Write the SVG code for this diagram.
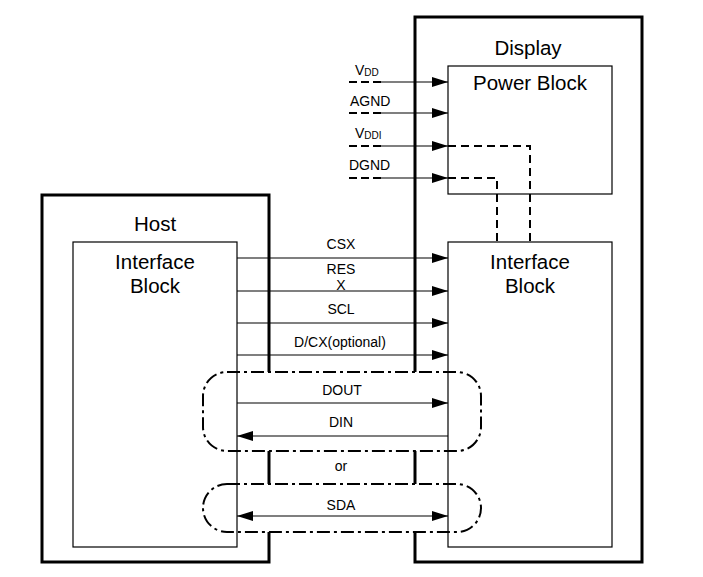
<svg xmlns="http://www.w3.org/2000/svg" width="703" height="577" viewBox="0 0 703 577">
<defs>
<style>
.thick{fill:none;stroke:#000;stroke-width:3}
.box{fill:none;stroke:#000;stroke-width:1.2}
.sig{fill:none;stroke:#000;stroke-width:1.1}
.dash{fill:none;stroke:#000;stroke-width:2;stroke-dasharray:8 4}
.dash2{fill:none;stroke:#000;stroke-width:2;stroke-dasharray:8 5}
.dd{fill:none;stroke:#000;stroke-width:2;stroke-dasharray:13 4 3 4}
.big{font-family:"Liberation Sans",Arial,sans-serif;font-size:20.5px;fill:#000;text-anchor:middle}
.lbl{font-family:"Liberation Sans",Arial,sans-serif;font-size:14px;fill:#000;text-anchor:middle}
.pl{font-family:"Liberation Sans",Arial,sans-serif;font-size:14px;fill:#000}
</style>
<marker id="arr" viewBox="0 0 16 10" refX="16" refY="5" markerWidth="16" markerHeight="10" markerUnits="userSpaceOnUse" orient="auto-start-reverse">
<path d="M0,0 L16,5 L0,10 z" fill="#000"/>
</marker>
</defs>
<rect width="703" height="577" fill="#fff"/>

<g id="host">
<path class="thick" d="M269,372 V195 H42 V562 H269 V532"/>
<path class="thick" d="M269,451 V484"/>
<text class="big" x="155" y="231">Host</text>
</g>
<g id="host-interface">
<rect class="box" x="73" y="242" width="164" height="305"/>
<text class="big" x="155" y="269">Interface</text>
<text class="big" x="155" y="293">Block</text>
</g>

<g id="display">
<path class="thick" d="M415,372 V17 H642 V562 H415 V532"/>
<path class="thick" d="M415,451 V484"/>
<text class="big" x="528" y="55">Display</text>
</g>
<g id="power-block">
<rect class="box" x="448" y="66" width="164" height="128"/>
<text class="big" x="530" y="90">Power Block</text>
</g>
<g id="display-interface">
<rect class="box" x="448" y="242" width="164" height="305"/>
<text class="big" x="530" y="269">Interface</text>
<text class="big" x="530" y="293">Block</text>
</g>

<g id="connectors">
<path class="dash" d="M349,82 H381"/>
<path class="sig" d="M381,82 H448" marker-end="url(#arr)"/>
<path class="dash" d="M349,113 H381"/>
<path class="sig" d="M381,113 H448" marker-end="url(#arr)"/>
<path class="dash" d="M349,146 H381"/>
<path class="sig" d="M381,146 H448" marker-end="url(#arr)"/>
<path class="dash" d="M349,178 H381"/>
<path class="sig" d="M381,178 H448" marker-end="url(#arr)"/>
<path class="dash2" d="M448,146 H530 V242"/>
<path class="dash2" d="M448,178 H497 V242"/>
<path class="sig" d="M237,258 H448" marker-end="url(#arr)"/>
<path class="sig" d="M237,291 H448" marker-end="url(#arr)"/>
<path class="sig" d="M237,323 H448" marker-end="url(#arr)"/>
<path class="sig" d="M237,355 H448" marker-end="url(#arr)"/>
<path class="sig" d="M237,403 H448" marker-end="url(#arr)"/>
<path class="sig" d="M448,436 H237" marker-end="url(#arr)"/>
<path class="sig" d="M237,516 H448" marker-start="url(#arr)" marker-end="url(#arr)"/>
</g>

<g id="bus-groups">
<rect class="dd" x="203" y="372" width="278" height="79" rx="24" ry="24"/>
<rect class="dd" x="203" y="484" width="278" height="48" rx="24" ry="24"/>
</g>

<g id="labels">
<text class="pl" x="355" y="75">V<tspan font-size="10" dy="1">DD</tspan></text>
<text class="pl" x="350" y="106">AGND</text>
<text class="pl" x="355" y="138">V<tspan font-size="10" dy="1">DDI</tspan></text>
<text class="pl" x="349" y="170">DGND</text>
<text class="lbl" x="341" y="249">CSX</text>
<text class="lbl" x="341" y="274">RES</text>
<text class="lbl" x="341" y="290">X</text>
<text class="lbl" x="341" y="314">SCL</text>
<text class="lbl" x="340" y="347">D/CX(optional)</text>
<text class="lbl" x="342" y="395">DOUT</text>
<text class="lbl" x="341" y="427">DIN</text>
<text class="lbl" x="341" y="471">or</text>
<text class="lbl" x="341" y="510">SDA</text>
</g>
</svg>
